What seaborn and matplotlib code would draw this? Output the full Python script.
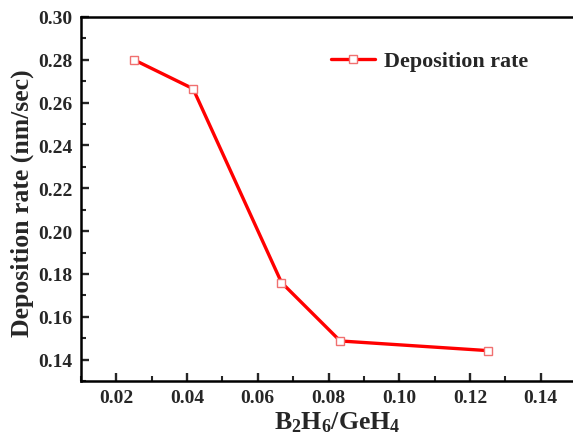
import matplotlib
matplotlib.use("Agg")
import matplotlib.pyplot as plt
import seaborn as sns
import pandas as pd
from matplotlib.ticker import AutoMinorLocator

ratio = [0.025, 0.0417, 0.0667, 0.0833, 0.125]
rate = [0.280, 0.2665, 0.176, 0.1487, 0.1442]
series_name = "Deposition rate"
xtick_labels = ["0.02", "0.04", "0.06", "0.08", "0.10", "0.12", "0.14"]
ytick_labels = ["0.14", "0.16", "0.18", "0.20", "0.22", "0.24", "0.26", "0.28", "0.30"]

sns.set_style("ticks")
plt.rcParams['font.family'] = ['Liberation Serif', 'DejaVu Serif']
plt.rcParams['font.weight'] = 'bold'
plt.rcParams['mathtext.fontset'] = 'custom'
plt.rcParams['mathtext.rm'] = 'Liberation Serif:bold'
plt.rcParams['mathtext.bf'] = 'Liberation Serif:bold'
plt.rcParams['mathtext.it'] = 'Liberation Serif:bold'

df = pd.DataFrame({"x": ratio, "y": rate})

fig = plt.figure(figsize=(5.73, 4.35), dpi=100)
ax = fig.add_axes([81/573, 1-382/435, (576-81)/573, (382-18)/435])

sns.lineplot(data=df, x="x", y="y", ax=ax, color="#ff0000", linewidth=2.4,
             marker="s", markersize=6.2, markerfacecolor="white",
             markeredgecolor="#f07070", markeredgewidth=1.0, label=series_name)

ax.set_xlim(0.01, 0.15)
ax.set_ylim(0.13, 0.30)
ax.set_xticks([float(t) for t in xtick_labels])
ax.set_xticklabels(xtick_labels)
ax.set_yticks([float(t) for t in ytick_labels])
ax.set_yticklabels(ytick_labels)
ax.xaxis.set_minor_locator(AutoMinorLocator(2))
ax.yaxis.set_minor_locator(AutoMinorLocator(2))

ax.tick_params(axis='both', which='major', direction='in', length=6, width=1.7,
               labelsize=14, pad=6)
ax.tick_params(axis='both', which='minor', direction='in', length=3.5, width=1.5)
for lab in ax.get_xticklabels() + ax.get_yticklabels():
    lab.set_fontweight('bold')

for s in ['left', 'bottom', 'top']:
    ax.spines[s].set_linewidth(1.8)
    ax.spines[s].set_color('black')
ax.spines['right'].set_visible(False)

ax.set_xlabel(r"B$_2$H$_6$/GeH$_4$", fontsize=18.5, fontweight='bold')
ax.xaxis.set_label_coords(0.517, -0.078)
ax.set_ylabel("Deposition rate (nm/sec)", fontsize=18.5, fontweight='bold')
ax.yaxis.set_label_coords(-0.095, 0.49)

leg = ax.legend(loc='center left', bbox_to_anchor=(0.487, 0.879), frameon=False,
                prop={'family': 'Liberation Serif', 'weight': 'bold', 'size': 15.8},
                handlelength=2.0, handletextpad=0.4, borderaxespad=0, markerscale=0.85)

fig.savefig("out.png", dpi=100)
